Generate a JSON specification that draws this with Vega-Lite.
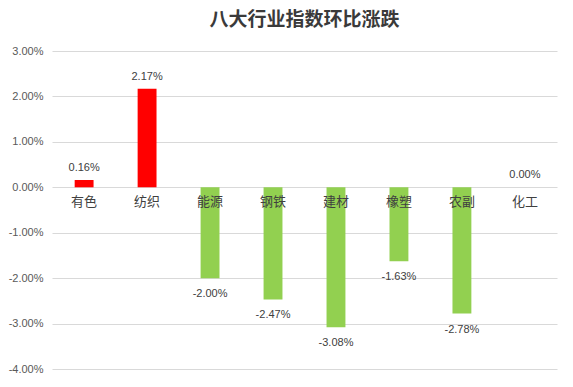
{
  "$schema": "https://vega.github.io/schema/vega-lite/v6.json",
  "width": 505,
  "height": 318,
  "autosize": "none",
  "padding": {"left": 52, "top": 51, "right": 16, "bottom": 18},
  "background": "white",
  "title": {
    "text": "八大行业指数环比涨跌",
    "font": "Noto Sans CJK SC",
    "fontSize": 19,
    "fontWeight": "bold",
    "color": "#3a3a3a",
    "anchor": "middle",
    "offset": 15
  },
  "config": {
    "view": {"stroke": null},
    "locale": {"number": {"decimal": ".", "thousands": ",", "grouping": [3], "currency": ["$", ""], "minus": "-"}}
  },
  "data": {
    "values": [
      {"industry": "有色", "change": 0.0016},
      {"industry": "纺织", "change": 0.0217},
      {"industry": "能源", "change": -0.02},
      {"industry": "钢铁", "change": -0.0247},
      {"industry": "建材", "change": -0.0308},
      {"industry": "橡塑", "change": -0.0163},
      {"industry": "农副", "change": -0.0278},
      {"industry": "化工", "change": 0.0}
    ]
  },
  "encoding": {
    "x": {
      "field": "industry",
      "type": "nominal",
      "sort": null,
      "scale": {"paddingInner": 0.7, "paddingOuter": 0.36},
      "axis": {
        "title": null,
        "offset": -181.7,
        "domain": false,
        "ticks": false,
        "labelAngle": 0,
        "labelFont": "Noto Sans CJK SC",
        "labelFontSize": 13,
        "labelColor": "#404040",
        "labelPadding": 8,
        "zindex": 1
      }
    },
    "y": {
      "field": "change",
      "type": "quantitative",
      "scale": {"domain": [-0.04, 0.03], "nice": false, "zero": false},
      "axis": {
        "title": null,
        "format": ".2%",
        "values": [-0.04, -0.03, -0.02, -0.01, 0, 0.01, 0.02, 0.03],
        "domain": false,
        "ticks": false,
        "gridColor": "#d9d9d9",
        "gridWidth": 1,
        "labelFont": "Liberation Sans",
        "labelFontSize": 11,
        "labelColor": "#595959",
        "labelPadding": 9
      }
    }
  },
  "layer": [
    {
      "mark": {"type": "bar"},
      "encoding": {
        "color": {
          "condition": {"test": "datum.change >= 0", "value": "#FF0000"},
          "value": "#92D050"
        }
      }
    },
    {
      "transform": [{"filter": "datum.change >= 0"}],
      "mark": {"type": "text", "baseline": "bottom", "dy": -7, "font": "Liberation Sans", "fontSize": 11, "color": "#404040"},
      "encoding": {"text": {"field": "change", "type": "quantitative", "format": ".2%"}}
    },
    {
      "transform": [{"filter": "datum.change < 0"}],
      "mark": {"type": "text", "baseline": "top", "dy": 10, "font": "Liberation Sans", "fontSize": 11, "color": "#404040"},
      "encoding": {"text": {"field": "change", "type": "quantitative", "format": ".2%"}}
    }
  ]
}
